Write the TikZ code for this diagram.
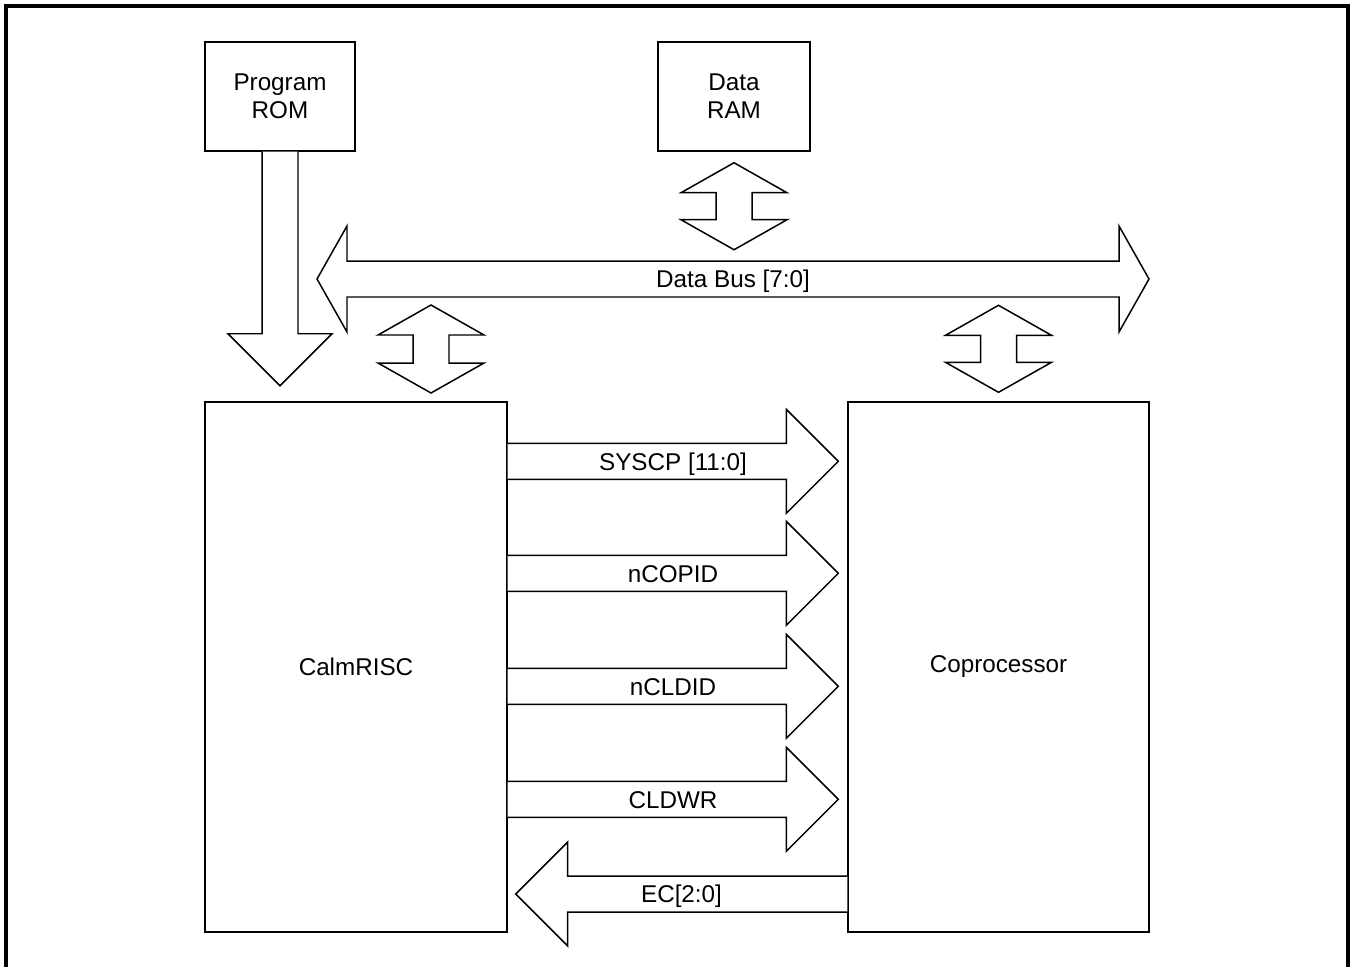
\documentclass[tikz,border=0pt]{standalone}
\usepackage{fontspec}
\setmainfont{Liberation Sans}
\usepackage{tikz}
\usetikzlibrary{positioning,calc}

\tikzset{
  block/.style={draw, line width=0.85pt, rectangle, align=center},
  bus/.style={draw, line width=0.85pt, line join=miter, fill=white},
  buslabel/.style={text height=9.9pt, text depth=0pt}
}

% fat one-way arrow: tail, tip (head 52px long, 52px wide each side, shaft 18px)
\newcommand{\sigarrow}[2]{%
  \coordinate (hb) at ($(#2)!1.04cm!(#1)$);
  \draw[bus] ($(#1)!0.36cm!90:(#2)$) -- ($(hb)!0.36cm!90:(#2)$) -- ($(hb)!1.04cm!90:(#2)$) -- (#2)
    -- ($(hb)!1.04cm!-90:(#2)$) -- ($(hb)!0.36cm!-90:(#2)$) -- ($(#1)!0.36cm!-90:(#2)$);
}
% fat two-way arrow: tip, tip (short heads)
\newcommand{\dblarrow}[2]{%
  \coordinate (ha) at ($(#1)!0.6cm!(#2)$);
  \coordinate (hb) at ($(#2)!0.6cm!(#1)$);
  \draw[bus] (#1) -- ($(ha)!1.06cm!90:(#2)$) -- ($(ha)!0.36cm!90:(#2)$) -- ($(hb)!0.36cm!-90:(#1)$)
    -- ($(hb)!1.06cm!-90:(#1)$) -- (#2) -- ($(hb)!1.06cm!90:(#1)$) -- ($(hb)!0.36cm!90:(#1)$)
    -- ($(ha)!0.36cm!-90:(#2)$) -- ($(ha)!1.06cm!-90:(#2)$) -- cycle;
}

\begin{document}
\begin{tikzpicture}[x=0.02cm, y=-0.02cm, every node/.style={font=\fontsize{13.8pt}{15.9pt}\selectfont}]
  \useasboundingbox (0,0) rectangle (1355,967);
  \draw[line width=2.4pt] (6,967) -- (6,6) -- (1348,6) -- (1348,967);

  % blocks
  \node[block, minimum width=3cm, minimum height=2.18cm] (rom) at (280,96.5) {Program\\ROM};
  \node[block, minimum width=3.04cm, minimum height=2.18cm] (ram) at (734,96.5) {Data\\RAM};
  \node[block, minimum width=6.04cm, minimum height=10.6cm] (cal) at (356,667) {CalmRISC};
  \node[block, minimum width=6.02cm, minimum height=10.6cm] (cop) at (998.5,667) {Coprocessor};

  % program fetch
  \coordinate (romtip) at ($(rom.south)+(0,234)$);
  \sigarrow{rom.south}{romtip}

  % data bus
  \coordinate (busl) at (317,279);
  \coordinate (busr) at (1149,279);
  \dblarrow{busl}{busr}
  \path (busl) -- (busr) node[midway, buslabel] (dbus) {Data Bus [7:0]};

  \coordinate (ramtop) at ($(ram.south)+(0,11)$);
  \coordinate (rambot) at ($(ram.south)+(0,98)$);
  \dblarrow{ramtop}{rambot}
  \coordinate (caltop) at (431,305);
  \coordinate (calbot) at (431,393);
  \dblarrow{caltop}{calbot}
  \coordinate (coptop) at ($(cop.north)+(0,-96)$);
  \coordinate (copbot) at ($(cop.north)+(0,-9)$);
  \dblarrow{coptop}{copbot}

  % coprocessor interface
  \foreach \dy/\nm/\txt in {60/syscp/{SYSCP [11:0]}, 172/ncopid/nCOPID, 285/ncldid/nCLDID, 398/cldwr/CLDWR} {
    \coordinate (\nm-s) at ($(cal.north east)+(0,\dy)$);
    \coordinate (\nm-t) at ($(cop.west |- \nm-s)+(-9,0)$);
    \sigarrow{\nm-s}{\nm-t}
    \path (\nm-s) -- (\nm-t) node[midway, buslabel] (\nm) {\txt};
  }
  \coordinate (ec-s) at ($(cop.west)+(0,227)$);
  \coordinate (ec-t) at ($(cal.east |- ec-s)+(8,0)$);
  \sigarrow{ec-s}{ec-t}
  \path (ec-s) -- (ec-t) node[midway, buslabel] (ec) {EC[2:0]};
\end{tikzpicture}
\end{document}
